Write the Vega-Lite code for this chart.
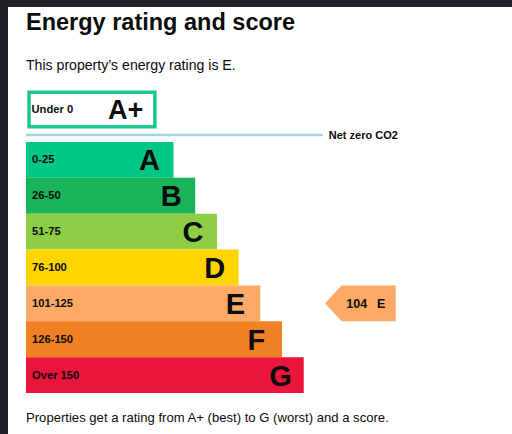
{
  "$schema": "https://vega.github.io/schema/vega-lite/v6.json",
  "width": 504,
  "height": 427,
  "autosize": {"type": "none"},
  "padding": {"left": 8, "top": 7, "right": 0, "bottom": 0},
  "background": "#231f26",
  "config": {
    "view": {"fill": "white", "stroke": null},
    "font": "Liberation Sans",
    "text": {"font": "Liberation Sans", "color": "#0b0c0c"}
  },
  "title": {
    "text": "Energy rating and score",
    "subtitle": "This property’s energy rating is E.",
    "anchor": "start",
    "frame": "group",
    "dx": 18,
    "offset": -65.6,
    "font": "Liberation Sans",
    "fontSize": 23.5,
    "fontWeight": "bold",
    "color": "#0b0c0c",
    "subtitleFont": "Liberation Sans",
    "subtitleFontSize": 14.1,
    "subtitleColor": "#0b0c0c",
    "subtitlePadding": 24
  },
  "datasets": {
    "bands": [
      {"rating": "A", "range": "0-25", "length": 170},
      {"rating": "B", "range": "26-50", "length": 195},
      {"rating": "C", "range": "51-75", "length": 220},
      {"rating": "D", "range": "76-100", "length": 245},
      {"rating": "E", "range": "101-125", "length": 270},
      {"rating": "F", "range": "126-150", "length": 295},
      {"rating": "G", "range": "Over 150", "length": 320}
    ],
    "plus": [{"rating": "A+", "range": "Under 0", "start": 3.5, "length": 148.5}],
    "current": [{"rating": "E", "score": 104}],
    "netzero": [{"label": "Net zero CO2", "row": "A+", "start": 0, "length": 342}],
    "notes": [{"note": "Properties get a rating from A+ (best) to G (worst) and a score.", "row": "G"}]
  },
  "layer": [
    {
      "data": {"name": "bands"},
      "mark": {"type": "bar", "cornerRadius": 0},
      "encoding": {
        "x": {"field": "length", "type": "quantitative", "scale": {"domain": [0, 560], "range": [18, 504], "nice": false, "zero": false}, "axis": null},
        "y": {"field": "rating", "type": "ordinal", "scale": {"domain": ["A+", "A", "B", "C", "D", "E", "F", "G"], "range": [99.14, 386], "paddingInner": 0, "paddingOuter": 0}, "axis": null},
        "color": {"field": "rating", "type": "nominal", "scale": {"domain": ["A", "B", "C", "D", "E", "F", "G"], "range": ["#00c781", "#19b459", "#8dce46", "#ffd500", "#fcaa65", "#ef8023", "#e9153b"]}, "legend": null}
      }
    },
    {
      "data": {"name": "bands"},
      "mark": {"type": "text", "align": "left", "baseline": "middle", "dx": -228, "dy": 0.5, "fontSize": 11.2, "fontWeight": "bold"},
      "encoding": {
        "y": {"field": "rating", "type": "ordinal", "axis": null},
        "text": {"field": "range"}
      }
    },
    {
      "data": {"name": "bands"},
      "mark": {"type": "text", "align": "left", "baseline": "middle", "dx": -34.5, "dy": 1.5, "fontSize": 29, "fontWeight": "bold"},
      "encoding": {
        "x": {"field": "length", "type": "quantitative", "axis": null},
        "y": {"field": "rating", "type": "ordinal", "axis": null},
        "text": {"field": "rating"}
      }
    },
    {
      "data": {"name": "plus"},
      "mark": {"type": "bar", "height": 34.5, "yOffset": -14.57, "fill": "transparent", "stroke": "#1ec68c", "strokeWidth": 3.5},
      "encoding": {
        "x": {"field": "start", "type": "quantitative", "axis": null},
        "x2": {"field": "length"},
        "y": {"field": "rating", "type": "ordinal", "axis": null}
      }
    },
    {
      "data": {"name": "plus"},
      "mark": {"type": "text", "align": "left", "baseline": "middle", "dx": 2.5, "dy": 0.5, "yOffset": -14.57, "fontSize": 11.2, "fontWeight": "bold"},
      "encoding": {
        "x": {"field": "start", "type": "quantitative", "axis": null},
        "y": {"field": "rating", "type": "ordinal", "axis": null},
        "text": {"field": "range"}
      }
    },
    {
      "data": {"name": "plus"},
      "mark": {"type": "text", "align": "left", "baseline": "middle", "dx": -47, "dy": 1.5, "yOffset": -14.57, "fontSize": 27, "fontWeight": "bold"},
      "encoding": {
        "x": {"field": "length", "type": "quantitative", "axis": null},
        "y": {"field": "rating", "type": "ordinal", "axis": null},
        "text": {"field": "rating"}
      }
    },
    {
      "data": {"name": "netzero"},
      "mark": {"type": "rule", "color": "#a4d5e4", "strokeWidth": 2.5, "yOffset": 10.93},
      "encoding": {
        "x": {"field": "start", "type": "quantitative", "axis": null},
        "x2": {"field": "length"},
        "y": {"field": "row", "type": "ordinal", "axis": null}
      }
    },
    {
      "data": {"name": "netzero"},
      "mark": {"type": "text", "align": "left", "baseline": "middle", "dx": 6, "dy": 1, "yOffset": 10.93, "fontSize": 11, "fontWeight": "bold"},
      "encoding": {
        "x": {"field": "length", "type": "quantitative", "axis": null},
        "y": {"field": "row", "type": "ordinal", "axis": null},
        "text": {"field": "label"}
      }
    },
    {
      "data": {"name": "current"},
      "mark": {"type": "point", "shape": "M-1,0L-0.528,-0.507L1,-0.507L1,0.507L-0.528,0.507Z", "size": 5000, "filled": true, "opacity": 1, "strokeWidth": 0, "xOffset": 100.35},
      "encoding": {
        "y": {"field": "rating", "type": "ordinal", "axis": null},
        "color": {"field": "rating", "type": "nominal", "legend": null}
      }
    },
    {
      "data": {"name": "current"},
      "mark": {"type": "text", "align": "left", "baseline": "middle", "dx": 86.3, "dy": 0.5, "fontSize": 12.5, "fontWeight": "bold"},
      "encoding": {
        "y": {"field": "rating", "type": "ordinal", "axis": null},
        "text": {"field": "score"}
      }
    },
    {
      "data": {"name": "current"},
      "mark": {"type": "text", "align": "left", "baseline": "middle", "dx": 117, "dy": 0.5, "fontSize": 12.5, "fontWeight": "bold"},
      "encoding": {
        "y": {"field": "rating", "type": "ordinal", "axis": null},
        "text": {"field": "rating"}
      }
    },
    {
      "data": {"name": "notes"},
      "mark": {"type": "text", "align": "left", "baseline": "alphabetic", "dx": -234, "dy": 46.5, "fontSize": 13.1},
      "encoding": {
        "y": {"field": "row", "type": "ordinal", "axis": null},
        "text": {"field": "note"}
      }
    }
  ]
}
